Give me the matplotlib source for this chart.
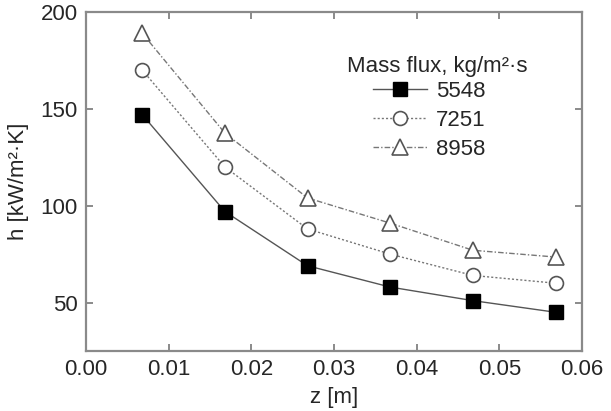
import matplotlib
matplotlib.use("Agg")
import matplotlib.pyplot as plt
from matplotlib.ticker import FormatStrFormatter

plt.rcParams['font.family'] = ['Liberation Sans', 'DejaVu Sans']

# axial position along the channel [m]
z = [0.0068, 0.0168, 0.0268, 0.0368, 0.0468, 0.0568]

# heat transfer coefficient [kW/m2K] for each mass flux
h_5548 = [147, 97, 69, 58, 51, 45]
h_7251 = [170, 120, 88, 75, 64, 60]
h_8958 = [189, 137.5, 104, 91, 77, 73.5]

labels = ["5548", "7251", "8958"]
x_ticks = [0.00, 0.01, 0.02, 0.03, 0.04, 0.05, 0.06]
y_ticks = [50, 100, 150, 200]

txt = "#262626"
frame = "#8a8a8a"
fs = 16

fig = plt.figure(figsize=(6.11, 4.11), dpi=100)
ax = fig.add_axes([0.1408, 0.146, 0.8117, 0.8248])

l1, = ax.plot(z, h_5548, color="#555555", lw=1.0, ls="-",
              marker="s", ms=10, mfc="black", mec="black", label=labels[0])
l2, = ax.plot(z, h_7251, color="#777777", lw=1.0, ls=(0, (1.5, 1.5)),
              marker="o", ms=10, mfc="white", mec="#555555", mew=1.2,
              label=labels[1])
l3, = ax.plot(z, h_8958, color="#777777", lw=1.0, ls=(0, (4, 1.5, 1, 1.5)),
              marker="^", ms=11, mfc="white", mec="#555555", mew=1.2,
              label=labels[2])

ax.set_xlim(0, 0.06)
ax.set_ylim(25, 200)
ax.set_xticks(x_ticks)
ax.set_yticks(y_ticks)
ax.xaxis.set_major_formatter(FormatStrFormatter("%.2f"))

for s in ax.spines.values():
    s.set_color(frame)
    s.set_linewidth(1.6)

ax.tick_params(direction="in", top=True, right=True, length=5, width=1.4,
               color=frame, labelsize=fs, labelcolor=txt, pad=6)

ax.set_xlabel("z [m]", fontsize=fs, color=txt, labelpad=5)
ax.set_ylabel("h [kW/m\u00b2\u00b7K]", fontsize=fs, color=txt, labelpad=8)

ax.text(0.526, 0.823, "Mass flux, kg/m\u00b2\u00b7s", transform=ax.transAxes,
        fontsize=fs, color=txt, ha="left", va="baseline")
ax.legend(handles=[l1, l2, l3], loc="upper left",
          bbox_to_anchor=(0.579, 0.796), frameon=False, fontsize=fs,
          handlelength=2.43, handletextpad=0.4, labelspacing=0.36,
          labelcolor=txt, borderaxespad=0, borderpad=0)

fig.savefig("out.png", dpi=100)
